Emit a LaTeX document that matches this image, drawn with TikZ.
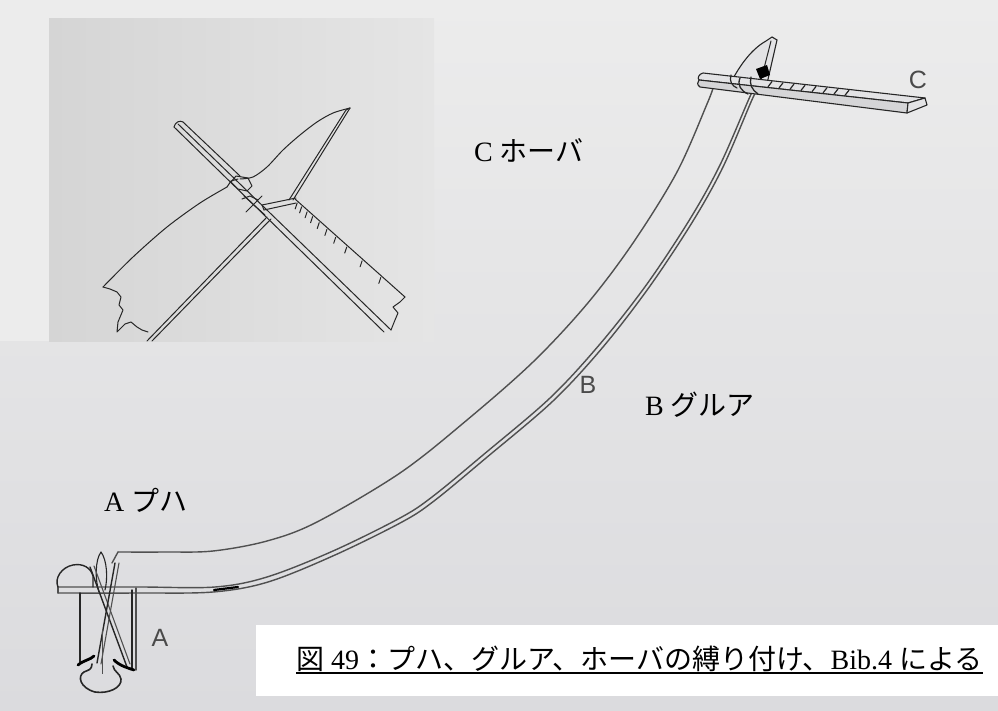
\documentclass[tikz,border=0pt]{standalone}
\usepackage{fontspec}
\usetikzlibrary{calc}
\setmainfont{Liberation Serif}
\newfontfamily\jpfont{Noto Sans CJK JP}
\newfontfamily\tagfont{Liberation Sans}
\definecolor{paper}{HTML}{E3E3E5}
\definecolor{paperlight}{HTML}{ECECEC}
\definecolor{paperdark}{HTML}{DBDBDE}
\definecolor{photoleft}{HTML}{D5D5D5}
\definecolor{photoright}{HTML}{E5E5E5}
\definecolor{ink}{HTML}{262626}
\definecolor{pencil}{HTML}{505050}
\definecolor{tagcol}{HTML}{4A4A4A}
\begin{document}
\begin{tikzpicture}[x=1pt,y=-1pt,
  inkline/.style={draw=ink,line width=1pt,line join=round,line cap=round},
  boomline/.style={draw=pencil,line width=1.4pt,line cap=round,line join=round},
  mastline/.style={draw=ink,line width=1.4pt,line cap=round,line join=round},
  heavy/.style={draw=black,line width=2.8pt,line cap=round,line join=round},
  serlabel/.style={inner sep=0pt,anchor=base west,font=\fontsize{28pt}{32pt}\selectfont},
  taglabel/.style={inner sep=0pt,text=tagcol,font=\tagfont\fontsize{25pt}{30pt}\selectfont},
]
\useasboundingbox (0,0) rectangle (998,711);

% ---------- paper ----------
\shade[top color=paperlight, bottom color=paperdark] (0,0) rectangle (998,711);
\fill[paperlight] (0,0) rectangle (49,341);

% ---------- inset photograph: close-up of the head lashing ----------
\shade[left color=photoleft, right color=photoright] (49,19) rectangle (434,341);
\begin{scope}
\clip (49,19) rectangle (434,341);
% yard, upper-left part and lower edge
\draw[inkline] (174,127) -- (384,332);
\draw[inkline] (178,124) -- (391,330);
\draw[inkline] (174,127) .. controls (175,122) and (180,120) .. (183,122);
\draw[inkline] (183,122) -- (240,176);
% broad face with scale marks
\draw[inkline] (295,199) -- (405,297);
\draw[inkline] (405,297) -- (400,302) -- (393,307) -- (398,313) -- (395,320) -- (391,330);
\foreach \t in {0.02,0.06,0.11,0.16,0.22,0.29,0.37,0.47,0.61,0.78}
  \draw[inkline] ($(295,199)!\t!(405,297)+(0,2)$) -- ++(-2,6);
% sail: left edge, ragged foot, curved head
\draw[inkline] plot[smooth] coordinates {(103,287) (133,257) (167,227) (200,203) (227,187)};
\draw[inkline] (103,287) -- (110,289) -- (117,292) -- (121,297) -- (119,305) -- (123,310)
  -- (118,322) -- (117,332) -- (125,324) -- (131,322) -- (137,327) -- (142,330) -- (148,332);
\draw[inkline] (227,187) -- (231,181) -- (238,179);
\draw[inkline] plot[smooth] coordinates {(240,179) (253,177) (267,167) (283,150) (300,135) (317,122) (333,113) (350,108)};
\draw[inkline] (350,108) -- (346,110);
% leading edge, double line
\draw[inkline] (350,108) -- (293,200);
\draw[inkline] (346,110) -- (289,200);
\draw[inkline] (267,217) -- (147,341);
\draw[inkline] (271,219) -- (152,341);
% lashing at the crossing
\draw[inkline] (231,182) -- (236,176) -- (248,178) -- (252,186) -- (247,191) -- (238,189) -- cycle;
\draw[inkline] (244,196) -- (265,215);
\draw[inkline] (246,212) -- (262,196);
\draw[inkline] (242,199) -- (250,196) -- (258,200);
\draw[inkline] (262,205) -- (296,198);
\draw[inkline] (264,210) -- (296,203);
\draw[inkline] (262,205) -- (264,210);
\end{scope}

% ---------- boom ----------
% upper edge
\draw[boomline] (112,563) -- (118,552);
\draw[boomline] plot[smooth,tension=0.55] coordinates {(118,552) (165,552) (213,551) (267,541) (317,522)
  (400,473) (467,420) (533,362) (587,304) (633,243) (677,172) (707,104) (713,88)};
% lower edge, double line, carried through the mast
\draw[boomline] plot[smooth,tension=0.55] coordinates {(58,587) (140,587) (215,587) (267,577) (333,551)
  (400,518) (432,497) (483,455) (550,398) (600,344) (647,284) (690,219) (720,165) (748,101) (753,90)};
\draw[boomline] plot[smooth,tension=0.55] coordinates {(58,593) (140,593) (213,592) (268,582) (335,555)
  (402,522) (434,501) (486,458) (553,401) (603,347) (650,286) (693,221) (723,167) (751,102) (756,92)};
\draw[boomline] (58,587) -- (58,593);
\draw[heavy, line width=2.2pt] (214,590) -- (238,587);

% ---------- head: spike, yard C and lashing ----------
\filldraw[fill=paper, draw=ink, line width=1.1pt] (728,88) .. controls (738,68) and (750,50) .. (766,41)
  -- (772,37) -- (777,40) -- (766,88) -- cycle;
\draw[inkline] (771,41) -- (761,80);
% yard: top face, front face, end face
\filldraw[fill=paper, draw=ink, line width=1.1pt, line join=round]
  (703,73) -- (925,98) -- (908,103) -- (699,80) .. controls (697,78) and (699,74) .. (703,73);
\filldraw[fill=paper!94!black, draw=ink, line width=1.1pt, line join=round]
  (699,80) -- (908,103) -- (907,113) -- (700,87) .. controls (697,85) and (697,82) .. (699,80);
\filldraw[fill=paper, draw=ink, line width=1.1pt, line join=round]
  (908,103) -- (925,98) -- (927,105) -- (907,113) -- cycle;
% scale marks on the yard
\foreach \x in {770,781,792,803,814,825,836,847}
  \draw[inkline, line width=1.2pt] (\x+2,{74+0.1126*(\x-703)}) -- (\x-2,{79+0.11*(\x-699)});
% lashing
\fill[black] (756,69) -- (767,65) -- (770,75) -- (760,79) -- cycle;
\draw[inkline, line width=1.3pt] (740,78) .. controls (737,85) and (741,91) .. (748,94);
\draw[inkline, line width=1.3pt] (751,77) .. controls (749,84) and (752,90) .. (758,94);
\draw[inkline, line width=1.2pt] (731,75) .. controls (729,81) and (732,86) .. (737,88);

% ---------- mast foot with lashing ----------
% cap on the left
\draw[mastline] (58,587) .. controls (54,578) and (62,567) .. (73,565)
  .. controls (83,563) and (91,568) .. (93,576) -- (93,587);
% mast head spindle
\draw[mastline, line width=1.1pt] (101,552) .. controls (95,560) and (95,580) .. (99,592);
\draw[mastline, line width=1.1pt] (101,552) .. controls (107,560) and (108,578) .. (105,590);
% mast body
\draw[mastline] (80,593) -- (80,662);
\draw[mastline] (132,590) -- (132,668);
\draw[mastline, draw=pencil] (136,588) -- (136,670);
% crossed lashing
\draw[mastline] (90,567) -- (127,667);
\draw[mastline, draw=pencil, line width=1.1pt] (94,566) -- (130,664);
\draw[mastline] (115,563) -- (97,663);
\draw[mastline, draw=pencil, line width=1.1pt] (119,563) -- (101,664);
% heavy shadows at the foot
\draw[heavy] (78,665) .. controls (84,660) and (90,660) .. (94,656);
\draw[heavy] (114,660) .. controls (120,666) and (128,668) .. (134,670);
% bulb
\draw[mastline, line width=1.6pt] (92,664) .. controls (92,670) and (88,670) .. (84,672)
  .. controls (77,676) and (80,688) .. (95,692) .. controls (108,694) and (122,688) .. (121,679)
  .. controls (120,673) and (114,672) .. (113,666);
\draw[draw=pencil, line width=0.8pt] (102,630) -- (102,674);

% ---------- letters in the drawing ----------
\node[taglabel] (tagC) at (918,80) {C};
\node[taglabel] (tagB) at (588,385) {B};
\node[taglabel] (tagA) at (160,638) {A};

% ---------- names ----------
\node[serlabel] (nameC) at (474,162) {C {\jpfont ホーバ}};
\node[serlabel] (nameB) at (645,415) {B {\jpfont グルア}};
\node[serlabel] (nameA) at (104,511) {A {\jpfont プハ}};

% ---------- caption ----------
\fill[white] (256,625) rectangle (998,696);
\node[serlabel] (caption) at (296,669)
  {{\jpfont 図} 49{\jpfont ：プハ、グルア、ホーバの縛り付け、}Bib.4 {\jpfont による}};
\draw[line width=1.6pt] ([yshift=-4pt]caption.base west) -- ([yshift=-4pt]caption.base east);
\end{tikzpicture}
\end{document}
